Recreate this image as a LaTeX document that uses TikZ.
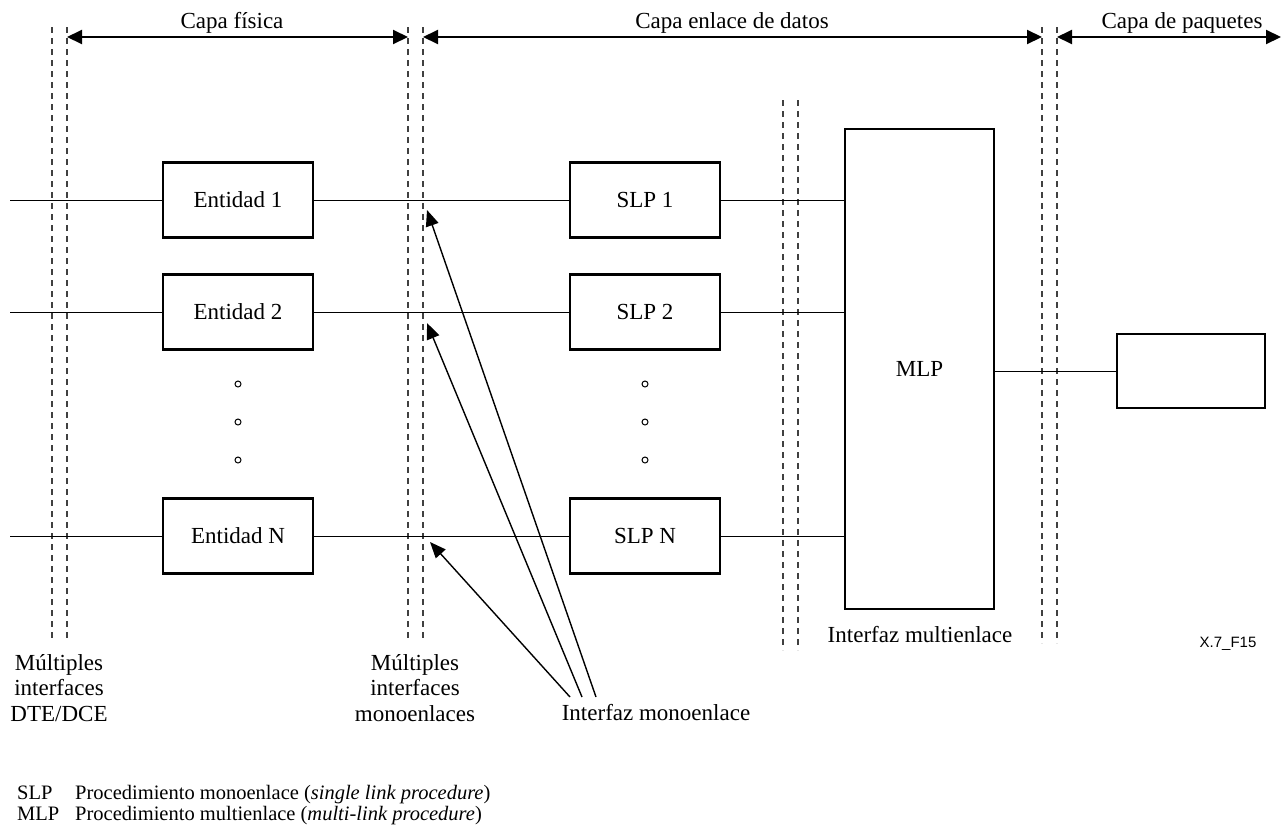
\documentclass[tikz,border=0pt]{standalone}
\usepackage{fontspec}
\setmainfont{Liberation Serif}
\newfontfamily\arialf{Liberation Sans}
\usetikzlibrary{arrows.meta}
\begin{document}
\begin{tikzpicture}[x=1pt,y=-1pt,
  box/.style={draw, line width=2.4pt, minimum width=150pt, minimum height=75pt, inner sep=0pt, font=\fontsize{23}{25}\selectfont},
  wire/.style={line width=1pt},
  dsh/.style={line width=1.1pt, dash pattern=on 6pt off 5pt, black!75},
  layer/.style={line width=2pt, {Triangle[length=15pt,width=14pt]}-{Triangle[length=15pt,width=14pt]}},
  ptr/.style={line width=1.4pt, -{Triangle[length=16pt,width=13pt]}},
  lbl/.style={font=\fontsize{23}{25.5}\selectfont, inner sep=0pt, align=center},
  leg/.style={font=\fontsize{20.5}{22}\selectfont, inner sep=0pt, anchor=base west},
  dot/.style={circle, draw, line width=1pt, minimum size=6pt, inner sep=0pt},
]
\useasboundingbox (0,0) rectangle (1281,825);

% dashed interface lines
\foreach \x in {52,67,408,423} \draw[dsh] (\x,27) -- (\x,640);
\foreach \x in {783,798} \draw[dsh] (\x,100) -- (\x,650);
\foreach \x in {1042,1057} \draw[dsh] (\x,27) -- (\x,643);

% layer arrows
\coordinate (a1) at (67,37);   \coordinate (a2) at (408,37);
\coordinate (b1) at (423,37);  \coordinate (b2) at (1042,37);
\coordinate (c1) at (1057,37); \coordinate (c2) at (1281,37);
\draw[layer] (a1) -- (a2);
\draw[layer] (b1) -- (b2);
\draw[layer] (c1) -- (c2);
\node[lbl, anchor=base] (lfis) at (232,28) {Capa física};
\node[lbl, anchor=base] (lenl) at (732,28) {Capa enlace de datos};
\node[lbl, anchor=base] (lpaq) at (1182,28) {Capa de paquetes};

% boxes
\node[box] (e1) at (238,200) {Entidad 1};
\node[box] (e2) at (238,312) {Entidad 2};
\node[box] (eN) at (238,536) {Entidad N};
\node[box] (s1) at (645,200) {SLP 1};
\node[box] (s2) at (645,312) {SLP 2};
\node[box] (sN) at (645,536) {SLP N};
\node[box, minimum width=149pt, minimum height=480pt] (mlp) at (919.5,369) {MLP};
\node[box, minimum width=148pt, minimum height=74pt] (pb) at (1191,371) {};

% wires
\coordinate (l1) at (10,200);
\coordinate (l2) at (10,312);
\coordinate (lN) at (10,536);
\draw[wire] (l1) -- (e1.west) (e1.east) -- (s1.west) (s1.east) -- (s1.east -| mlp.west);
\draw[wire] (l2) -- (e2.west) (e2.east) -- (s2.west) (s2.east) -- (s2.east -| mlp.west);
\draw[wire] (lN) -- (eN.west) (eN.east) -- (sN.west) (sN.east) -- (sN.east -| mlp.west);
\draw[wire] (mlp.east |- pb.west) -- (pb.west);

% dots
\foreach \y [count=\i] in {384,422,460} {
  \node[dot] (de\i) at (238,\y) {};
  \node[dot] (ds\i) at (645,\y) {};
}

% pointer arrows
\coordinate (p1) at (596,697); \coordinate (q1) at (427,210);
\coordinate (p2) at (582,697); \coordinate (q2) at (427,323);
\coordinate (pN) at (570,697); \coordinate (qN) at (430,542);
\draw[ptr] (p1) -- (q1);
\draw[ptr] (p2) -- (q2);
\draw[ptr] (pN) -- (qN);

% labels
\node[lbl] (ldte) at (59,688) {Múltiples\\interfaces\\DTE/DCE};
\node[lbl] (lmono) at (415,688) {Múltiples\\interfaces\\monoenlaces};
\node[lbl, anchor=base] (lifm) at (656,720) {Interfaz monoenlace};
\node[lbl, anchor=base] (lifml) at (920,642) {Interfaz multienlace};
\node[font=\arialf\fontsize{15}{17}\selectfont, inner sep=0pt] (fig) at (1228,644) {X.7\_F15};

% legend
\node[leg] (k1) at (17,799) {SLP};
\node[leg] (v1) at (75,799) {Procedimiento monoenlace (\textit{single link procedure})};
\node[leg] (k2) at (17,820.5) {MLP};
\node[leg] (v2) at (75,820.5) {Procedimiento multienlace (\textit{multi-link procedure})};
\end{tikzpicture}
\end{document}
